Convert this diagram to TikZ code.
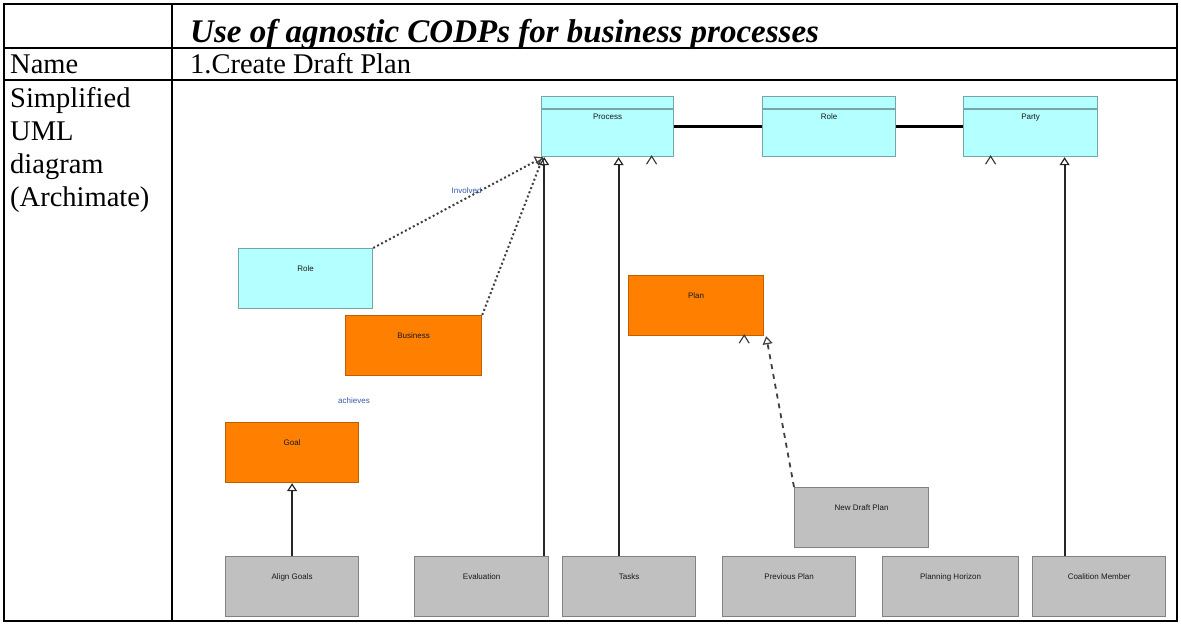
\documentclass[tikz,border=0pt]{standalone}
\usepackage{fontspec}
\setmainfont{Liberation Serif}
\setsansfont{Liberation Sans}
\usetikzlibrary{arrows.meta,calc}
\definecolor{cyanfill}{RGB}{180,255,255}
\definecolor{cyanedge}{RGB}{120,165,165}
\definecolor{orfill}{RGB}{255,128,0}
\definecolor{oredge}{RGB}{190,95,0}
\definecolor{grfill}{RGB}{192,192,192}
\definecolor{gredge}{RGB}{130,130,130}
\definecolor{lbl}{RGB}{50,90,170}
\tikzset{
  tbl/.style={line width=1.2pt,black},
  ttext/.style={font=\fontsize{28.5}{30}\selectfont,inner sep=0pt,anchor=base west},
  box/.style={minimum width=#1,minimum height=60pt,inner sep=0pt,anchor=north west,
    text height=8pt,text depth=22pt,line width=1.2pt,
    font=\fontsize{8}{9}\sffamily,text=black!90},
  cbox/.style={box=#1,fill=cyanfill,draw=cyanedge},
  obox/.style={box=#1,fill=orfill,draw=oredge},
  gbox/.style={box=#1,fill=grfill,draw=gredge},
  assoc/.style={line width=2.5pt,black},
  gen/.style={line width=2.2pt,black!85,-{Triangle[open,length=8pt,width=10pt,line width=1.2pt]}},
  dgen/.style={line width=2pt,black!75,dash pattern=on 2pt off 2.5pt,-{Triangle[open,length=8pt,width=10pt,line width=1.2pt]}},
  dashgen/.style={line width=1.8pt,black!75,dash pattern=on 5pt off 5pt,-{Triangle[open,length=8pt,width=10pt,line width=1.2pt]}},
  lab/.style={font=\fontsize{8}{9}\sffamily,text=lbl,inner sep=1pt},
  tri/.pic={\draw[line width=1.1pt,black!80,fill=white] (-5pt,-8pt) -- (0,0) -- (5pt,-8pt);}
}
\begin{document}
\begin{tikzpicture}[x=1pt,y=-1pt]
\useasboundingbox (0,0) rectangle (1181,624);
% table
\draw[tbl] (4,4) rectangle (1177,621);
\draw[tbl] (4,48) -- (1177,48);
\draw[tbl] (4,80) -- (1177,80);
\draw[tbl] (172,4) -- (172,621);
\node[ttext,font=\fontsize{33}{33}\selectfont\bfseries\itshape] (hdr) at (190,42) {Use of agnostic CODPs for business processes};
\node[ttext] (nm) at (10,73) {Name};
\node[ttext] (nmv) at (190,73) {1.Create Draft Plan};
\node[ttext] (s1) at (10,107) {Simplified};
\node[ttext] (s2) at (10,140) {UML};
\node[ttext] (s3) at (10,173) {diagram};
\node[ttext] (s4) at (10,206) {(Archimate)};
% top row
\node[cbox=132pt] (proc) at (541,96) {Process};
\node[cbox=133pt] (role) at (762,96) {Role};
\node[cbox=134pt] (party) at (963,96) {Party};
\foreach \n in {proc,role,party}{
  \draw[cyanedge,line width=1.2pt] ([yshift=-13pt]\n.north west) -- ([yshift=-13pt]\n.north east);
}
\draw[assoc] (proc.east) -- (role.west);
\draw[assoc] (role.east) -- (party.west);
% middle
\node[cbox=134pt] (rolel) at (238,248) {Role};
\node[obox=136pt] (bus) at (345,315) {Business};
\node[obox=133pt] (goal) at (225,422) {Goal};
\node[obox=135pt] (plan) at (628,275) {Plan};
\node[gbox=134pt] (ndp) at (794,487) {New Draft Plan};
% bottom row
\node[gbox=133pt] (t1) at (225,556) {Align Goals};
\node[gbox=134pt] (t2) at (414,556) {Evaluation};
\node[gbox=133pt] (t3) at (562,556) {Tasks};
\node[gbox=133pt] (t4) at (722,556) {Previous Plan};
\node[gbox=136pt] (t5) at (882,556) {Planning Horizon};
\node[gbox=133pt] (t6) at (1032,556) {Coalition Member};
% connectors
\draw[dgen] (rolel.north east) -- ([xshift=2pt]proc.south west) node[lab,pos=0.55,above=2pt] {Involved};
\draw[dgen] (bus.north east) -- ([xshift=2pt]proc.south west);
\coordinate (t2top) at ([xshift=-5pt]t2.north east);
\draw[gen] (t2top) -- (t2top |- proc.south);
\coordinate (t3top) at ([xshift=-10.5pt]t3.north);
\draw[gen] (t3top) -- (t3top |- proc.south);
\coordinate (t6top) at ([xshift=-34.5pt]t6.north);
\draw[gen] (t6top) -- (t6top |- party.south);
\draw[gen] (t1.north) -- (goal.south);
\draw[dashgen] (ndp.north west) -- ([xshift=2pt]plan.south east);
\node[lab] (ach) at (354,401) {achieves};
% lone arrowheads
\pic at ([xshift=44pt,yshift=1pt]proc.south) {tri};
\pic at ([xshift=-40pt,yshift=1pt]party.south) {tri};
\pic at ([xshift=-20pt,yshift=1pt]plan.south east) {tri};
\end{tikzpicture}
\end{document}
